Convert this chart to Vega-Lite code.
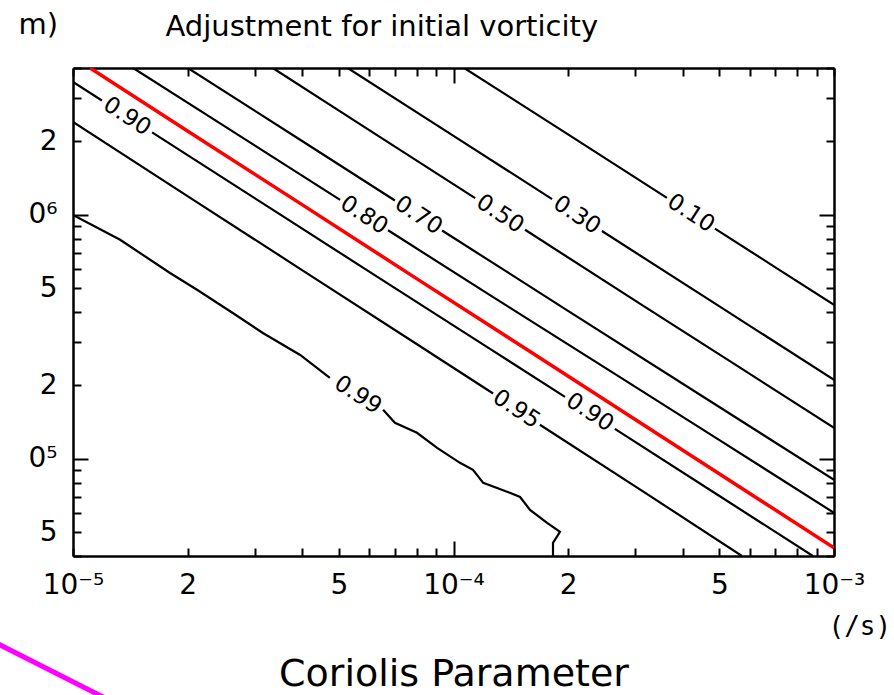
{
  "$schema": "https://vega.github.io/schema/vega-lite/v6.json",
  "width": 761,
  "height": 488,
  "autosize": "none",
  "padding": {"left": 73, "top": 68, "right": 60, "bottom": 139},
  "background": "white",
  "config": {
    "view": {"stroke": null},
    "font": "DejaVu Sans",
    "axis": {
      "grid": false,
      "domainColor": "black",
      "domainWidth": 2.5,
      "tickColor": "black",
      "tickWidth": 2,
      "labelColor": "black",
      "labelFont": "DejaVu Sans",
      "labelFontSize": 28,
      "titleColor": "black",
      "titleFont": "DejaVu Sans",
      "titleFontWeight": "normal",
      "labelOverlap": false,
      "labelFlush": false
    }
  },
  "datasets": {
    "contours": [
      {"seg": "0.99a", "i": 0, "f": 1e-5, "L": 1e6},
      {"seg": "0.99a", "i": 1, "f": 1.330e-5, "L": 7.907e5},
      {"seg": "0.99a", "i": 2, "f": 1.799e-5, "L": 5.781e5},
      {"seg": "0.99a", "i": 3, "f": 2.118e-5, "L": 4.932e5},
      {"seg": "0.99a", "i": 4, "f": 2.630e-5, "L": 3.963e5},
      {"seg": "0.99a", "i": 5, "f": 3.155e-5, "L": 3.281e5},
      {"seg": "0.99a", "i": 6, "f": 3.954e-5, "L": 2.667e5},
      {"seg": "0.99a", "i": 7, "f": 4.732e-5, "L": 2.148e5},
      {"seg": "0.99b", "i": 8, "f": 6.531e-5, "L": 1.589e5},
      {"seg": "0.99b", "i": 9, "f": 7.015e-5, "L": 1.406e5},
      {"seg": "0.99b", "i": 10, "f": 8.017e-5, "L": 1.279e5},
      {"seg": "0.99b", "i": 11, "f": 9.057e-5, "L": 1.109e5},
      {"seg": "0.99b", "i": 12, "f": 1.040e-4, "L": 9.638e4},
      {"seg": "0.99b", "i": 13, "f": 1.125e-4, "L": 9.016e4},
      {"seg": "0.99b", "i": 14, "f": 1.197e-4, "L": 7.980e4},
      {"seg": "0.99b", "i": 15, "f": 1.406e-4, "L": 7.261e4},
      {"seg": "0.99b", "i": 16, "f": 1.496e-4, "L": 6.983e4},
      {"seg": "0.99b", "i": 17, "f": 1.589e-4, "L": 6.180e4},
      {"seg": "0.99b", "i": 18, "f": 1.762e-4, "L": 5.470e4},
      {"seg": "0.99b", "i": 19, "f": 1.905e-4, "L": 5.023e4},
      {"seg": "0.99b", "i": 20, "f": 1.826e-4, "L": 4.529e4},
      {"seg": "0.99b", "i": 21, "f": 1.826e-4, "L": 4.0e4},
      {"seg": "0.95a", "i": 0, "f": 1e-5, "L": 2.404e6},
      {"seg": "0.95a", "i": 1, "f": 1.995e-5, "L": 1.197e6},
      {"seg": "0.95a", "i": 2, "f": 3.981e-5, "L": 5.970e5},
      {"seg": "0.95a", "i": 3, "f": 7.943e-5, "L": 2.979e5},
      {"seg": "0.95a", "i": 4, "f": 1.271e-4, "L": 1.854e5},
      {"seg": "0.95b", "i": 5, "f": 1.687e-4, "L": 1.380e5},
      {"seg": "0.95b", "i": 6, "f": 3.162e-4, "L": 7.328e4},
      {"seg": "0.95b", "i": 7, "f": 5.728e-4, "L": 4.0e4},
      {"seg": "0.90a", "i": 0, "f": 1e-5, "L": 3.508e6},
      {"seg": "0.90a", "i": 1, "f": 1.191e-5, "L": 2.944e6},
      {"seg": "0.90b", "i": 2, "f": 1.614e-5, "L": 2.178e6},
      {"seg": "0.90b", "i": 3, "f": 3.162e-5, "L": 1.112e6},
      {"seg": "0.90b", "i": 4, "f": 6.310e-5, "L": 5.572e5},
      {"seg": "0.90b", "i": 5, "f": 1.259e-4, "L": 2.799e5},
      {"seg": "0.90b", "i": 6, "f": 1.963e-4, "L": 1.795e5},
      {"seg": "0.90c", "i": 7, "f": 2.655e-4, "L": 1.327e5},
      {"seg": "0.90c", "i": 8, "f": 5.012e-4, "L": 7.031e4},
      {"seg": "0.90c", "i": 9, "f": 8.801e-4, "L": 4.0e4},
      {"seg": "0.80a", "i": 0, "f": 1.439e-5, "L": 4e6},
      {"seg": "0.80a", "i": 1, "f": 2.512e-5, "L": 2.301e6},
      {"seg": "0.80a", "i": 2, "f": 5.035e-5, "L": 1.153e6},
      {"seg": "0.80b", "i": 3, "f": 6.730e-5, "L": 8.650e5},
      {"seg": "0.80b", "i": 4, "f": 1.259e-4, "L": 4.645e5},
      {"seg": "0.80b", "i": 5, "f": 2.512e-4, "L": 2.355e5},
      {"seg": "0.80b", "i": 6, "f": 5.012e-4, "L": 1.191e5},
      {"seg": "0.80b", "i": 7, "f": 1e-3, "L": 6.012e4},
      {"seg": "0.70a", "i": 0, "f": 2.004e-5, "L": 4e6},
      {"seg": "0.70a", "i": 1, "f": 3.981e-5, "L": 2.018e6},
      {"seg": "0.70a", "i": 2, "f": 7.015e-5, "L": 1.146e6},
      {"seg": "0.70b", "i": 3, "f": 9.333e-5, "L": 8.630e5},
      {"seg": "0.70b", "i": 4, "f": 1.995e-4, "L": 4.055e5},
      {"seg": "0.70b", "i": 5, "f": 4.467e-4, "L": 1.824e5},
      {"seg": "0.70b", "i": 6, "f": 1e-3, "L": 8.204e4},
      {"seg": "0.50a", "i": 0, "f": 3.350e-5, "L": 4e6},
      {"seg": "0.50a", "i": 1, "f": 6.310e-5, "L": 2.118e6},
      {"seg": "0.50a", "i": 2, "f": 1.140e-4, "L": 1.172e6},
      {"seg": "0.50b", "i": 3, "f": 1.542e-4, "L": 8.690e5},
      {"seg": "0.50b", "i": 4, "f": 3.162e-4, "L": 4.227e5},
      {"seg": "0.50b", "i": 5, "f": 5.623e-4, "L": 2.382e5},
      {"seg": "0.50b", "i": 6, "f": 1e-3, "L": 1.340e5},
      {"seg": "0.30a", "i": 0, "f": 5.272e-5, "L": 4e6},
      {"seg": "0.30a", "i": 1, "f": 1e-4, "L": 2.109e6},
      {"seg": "0.30a", "i": 2, "f": 1.816e-4, "L": 1.161e6},
      {"seg": "0.30b", "i": 3, "f": 2.455e-4, "L": 8.590e5},
      {"seg": "0.30b", "i": 4, "f": 5.012e-4, "L": 4.207e5},
      {"seg": "0.30b", "i": 5, "f": 1e-3, "L": 2.109e5},
      {"seg": "0.10a", "i": 0, "f": 1.067e-4, "L": 4e6},
      {"seg": "0.10a", "i": 1, "f": 1.995e-4, "L": 2.143e6},
      {"seg": "0.10a", "i": 2, "f": 3.639e-4, "L": 1.175e6},
      {"seg": "0.10b", "i": 3, "f": 4.864e-4, "L": 8.790e5},
      {"seg": "0.10b", "i": 4, "f": 7.079e-4, "L": 6.040e5},
      {"seg": "0.10b", "i": 5, "f": 1e-3, "L": 4.276e5}
    ],
    "red": [
      {"i": 0, "f": 1.109e-5, "L": 4e6},
      {"i": 1, "f": 1.995e-5, "L": 2.213e6},
      {"i": 2, "f": 3.981e-5, "L": 1.107e6},
      {"i": 3, "f": 7.943e-5, "L": 5.521e5},
      {"i": 4, "f": 1.585e-4, "L": 2.761e5},
      {"i": 5, "f": 3.162e-4, "L": 1.377e5},
      {"i": 6, "f": 6.310e-4, "L": 6.871e4},
      {"i": 7, "f": 1e-3, "L": 4.325e4}
    ],
    "labels": [
      {"text": "0.90", "f": 1.387e-5, "L": 2.535e6},
      {"text": "0.80", "f": 5.821e-5, "L": 9.98e5},
      {"text": "0.70", "f": 8.091e-5, "L": 9.95e5},
      {"text": "0.50", "f": 1.326e-4, "L": 1.010e6},
      {"text": "0.30", "f": 2.111e-4, "L": 9.99e5},
      {"text": "0.10", "f": 4.207e-4, "L": 1.016e6},
      {"text": "0.99", "f": 5.610e-5, "L": 1.828e5},
      {"text": "0.95", "f": 1.464e-4, "L": 1.601e5},
      {"text": "0.90", "f": 2.283e-4, "L": 1.551e5}
    ],
    "pink": [
      {"i": 0, "f": 6.24e-6, "L": 1.770e4},
      {"i": 1, "f": 1.213e-5, "L": 1.048e4}
    ]
  },
  "resolve": {"axis": {"x": "independent", "y": "independent"}},
  "layer": [
    {
      "data": {"name": "contours"},
      "mark": {"type": "line", "color": "black", "strokeWidth": 2.2, "clip": true},
      "encoding": {
        "x": {
          "field": "f", "type": "quantitative",
          "scale": {"type": "log", "domain": [1e-5, 1e-3], "nice": false},
          "axis": {
            "orient": "bottom",
            "values": [1e-5, 2e-5, 3e-5, 4e-5, 5e-5, 6e-5, 7e-5, 8e-5, 9e-5, 1e-4, 2e-4, 3e-4, 4e-4, 5e-4, 6e-4, 7e-4, 8e-4, 9e-4, 1e-3],
            "labelExpr": "datum.value == 1e-5 ? '10⁻⁵' : (datum.value == 2e-5 || datum.value == 2e-4) ? '2' : (datum.value == 5e-5 || datum.value == 5e-4) ? '5' : datum.value == 1e-4 ? '10⁻⁴' : datum.value == 1e-3 ? '10⁻³' : ''",
            "tickSize": {"condition": {"test": "datum.value == 1e-4", "value": -15}, "value": -8},
            "labelPadding": {"condition": {"test": "datum.value == 1e-4", "value": 30}, "value": 23},
            "labelBaseline": "top",
            "title": "Coriolis Parameter",
            "titleFontSize": 38,
            "titleX": 380.5,
            "titleY": 129,
            "titleAlign": "center",
            "titleBaseline": "alphabetic"
          }
        },
        "y": {
          "field": "L", "type": "quantitative",
          "scale": {"type": "log", "domain": [4e4, 4e6], "nice": false},
          "axis": {
            "orient": "left",
            "values": [4e4, 5e4, 6e4, 7e4, 8e4, 9e4, 1e5, 2e5, 3e5, 4e5, 5e5, 6e5, 7e5, 8e5, 9e5, 1e6, 2e6, 3e6, 4e6],
            "labelExpr": "(datum.value == 2e6 || datum.value == 2e5) ? '2' : (datum.value == 5e5 || datum.value == 5e4) ? '5' : datum.value == 1e6 ? '0⁶' : datum.value == 1e5 ? '0⁵' : ''",
            "tickSize": {"condition": {"test": "datum.value == 1e5 || datum.value == 1e6", "value": -15}, "value": -8},
            "labelPadding": {"condition": {"test": "datum.value == 1e5 || datum.value == 1e6", "value": 31}, "value": 24},
            "labelAlign": "right",
            "labelBaseline": "middle",
            "title": "m)",
            "titleFontSize": 29,
            "titleAngle": 0,
            "titleX": -55,
            "titleY": -35,
            "titleAlign": "left",
            "titleBaseline": "alphabetic"
          }
        },
        "detail": {"field": "seg", "type": "nominal"},
        "order": {"field": "i", "type": "quantitative"}
      }
    },
    {
      "data": {"name": "red"},
      "mark": {"type": "line", "color": "#ff0000", "strokeWidth": 3.5, "clip": true},
      "encoding": {
        "x": {
          "field": "f", "type": "quantitative",
          "scale": {"type": "log", "domain": [1e-5, 1e-3], "nice": false},
          "axis": {
            "orient": "top",
            "values": [1e-5, 2e-5, 3e-5, 4e-5, 5e-5, 6e-5, 7e-5, 8e-5, 9e-5, 1e-4, 2e-4, 3e-4, 4e-4, 5e-4, 6e-4, 7e-4, 8e-4, 9e-4, 1e-3],
            "labels": false,
            "tickSize": {"condition": {"test": "datum.value == 1e-4", "value": -15}, "value": -8},
            "title": "Adjustment for initial vorticity",
            "titleFontSize": 29,
            "titleX": 92,
            "titleY": -33,
            "titleAlign": "left",
            "titleBaseline": "alphabetic"
          }
        },
        "y": {
          "field": "L", "type": "quantitative",
          "scale": {"type": "log", "domain": [4e4, 4e6], "nice": false},
          "axis": {
            "orient": "right",
            "values": [4e4, 5e4, 6e4, 7e4, 8e4, 9e4, 1e5, 2e5, 3e5, 4e5, 5e5, 6e5, 7e5, 8e5, 9e5, 1e6, 2e6, 3e6, 4e6],
            "labels": false,
            "tickSize": {"condition": {"test": "datum.value == 1e5 || datum.value == 1e6", "value": -15}, "value": -8},
            "title": "(/s)",
            "titleFont": "DejaVu Sans Mono",
            "titleFontSize": 26,
            "titleAngle": 0,
            "titleX": -6,
            "titleY": 566,
            "titleAlign": "left",
            "titleBaseline": "alphabetic"
          }
        },
        "order": {"field": "i", "type": "quantitative"}
      }
    },
    {
      "data": {"name": "labels"},
      "mark": {"type": "text", "fontSize": 23, "angle": 33, "align": "center", "baseline": "middle", "color": "black", "font": "DejaVu Sans"},
      "encoding": {
        "x": {"field": "f", "type": "quantitative", "scale": {"type": "log", "domain": [1e-5, 1e-3], "nice": false}, "axis": null},
        "y": {"field": "L", "type": "quantitative", "scale": {"type": "log", "domain": [4e4, 4e6], "nice": false}, "axis": null},
        "text": {"field": "text", "type": "nominal"}
      }
    },
    {
      "data": {"name": "pink"},
      "mark": {"type": "line", "color": "#ff00ff", "strokeWidth": 5, "clip": false},
      "encoding": {
        "x": {"field": "f", "type": "quantitative", "scale": {"type": "log", "domain": [1e-5, 1e-3], "nice": false}, "axis": null},
        "y": {"field": "L", "type": "quantitative", "scale": {"type": "log", "domain": [4e4, 4e6], "nice": false}, "axis": null},
        "order": {"field": "i", "type": "quantitative"}
      }
    }
  ]
}
